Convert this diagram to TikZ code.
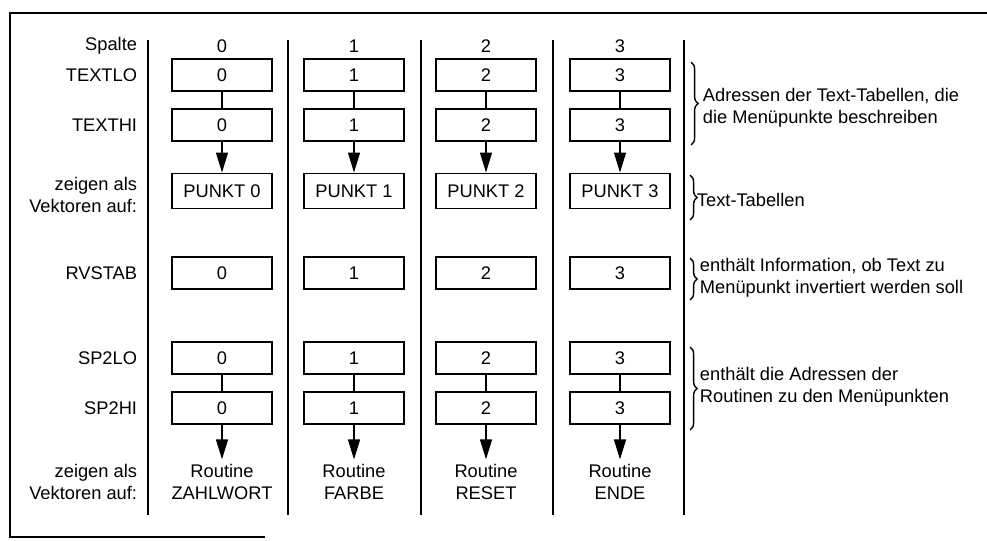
\documentclass[tikz,border=0pt]{standalone}
\usepackage{fontspec}
\setmainfont{Liberation Sans}
\usetikzlibrary{arrows.meta,decorations.pathreplacing}

\begin{document}
\begin{tikzpicture}[
  x=0.025cm, y=-0.025cm,
  font=\fontsize{13}{15.6}\selectfont,
  cell/.style={draw, line width=1.4pt, minimum width=2.5cm, minimum height=0.8cm, inner sep=0pt},
  lbl/.style={anchor=east, align=right},
  note/.style={anchor=west, align=left},
  sep/.style={line width=0.9pt},
  link/.style={line width=1pt},
  arr/.style={-{Triangle[length=5mm, width=3mm]}, line width=1pt},
  brc/.style={decorate, decoration={brace, amplitude=1.8mm}, line width=1pt}
]
\useasboundingbox (0,0) rectangle (987,540);

% frame (cut off at right and bottom)
\draw[sep] (987,13) -| (10,537) -- (265,537);

% row labels
\node[lbl] (hspalte) at (142,46) {Spalte};
\node[lbl] (htextlo) at (142,75) {TEXTLO};
\node[lbl] (htexthi) at (142,125) {TEXTHI};
\node[lbl] (hzeigA) at (142,195) {zeigen als\\Vektoren auf:};
\node[lbl] (hrvstab) at (142,273) {RVSTAB};
\node[lbl] (hsplo) at (142,358) {SP2LO};
\node[lbl] (hsphi) at (142,408) {SP2HI};
\node[lbl] (hzeigB) at (142,482) {zeigen als\\Vektoren auf:};

% column separators
\foreach \x in {148,288,421,553,684} \draw[sep] (\x,40) -- (\x,515);

% one column per menu item
\foreach \c/\x/\r in {0/222/ZAHLWORT,1/354/FARBE,2/486/RESET,3/620/ENDE}{
  \node (sp\c) at (\x,46) {\c};
  \node[cell] (tlo\c) at (\x,75) {\c};
  \node[cell] (thi\c) at (\x,125) {\c};
  \node[cell, minimum height=0.875cm] (pkt\c) at (\x,191) {PUNKT \c};
  \node[cell] (rvs\c) at (\x,273) {\c};
  \node[cell] (slo\c) at (\x,358) {\c};
  \node[cell] (shi\c) at (\x,408) {\c};
  \node[align=center] (rout\c) at (\x,482) {Routine\\\r};
  \draw[link] (tlo\c) -- (thi\c);
  \draw[arr] (thi\c) -- (pkt\c);
  \draw[link] (slo\c) -- (shi\c);
  \draw[arr] (shi\c) -- (rout\c);
}

% comments on the right
\draw[brc] (691,62) -- (691,145);
\node[note] (nadr) at (698,108) {Adressen der Text-Tabellen, die\\die Menüpunkte beschreiben};
\draw[brc] (690,175) -- (690,220);
\node[note] (ntab) at (692,200) {Text-Tabellen};
\draw[brc] (690,258) -- (690,300);
\node[note] (ninv) at (695,278) {enthält Information, ob Text zu\\Menüpunkt invertiert werden soll};
\draw[brc] (690,347) -- (690,430);
\node[note] (nrout) at (695,387) {enthält die Adressen der\\Routinen zu den Menüpunkten};
\end{tikzpicture}
\end{document}
